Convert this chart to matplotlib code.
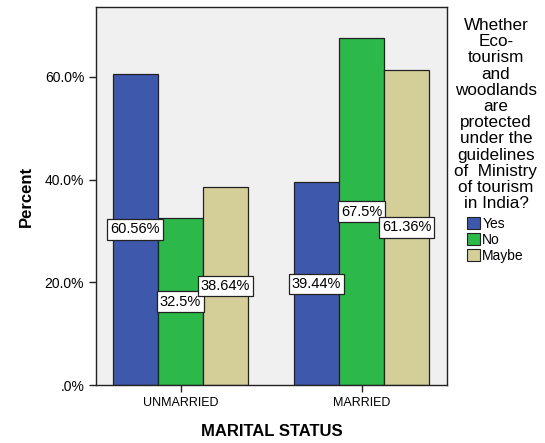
import numpy as np
import matplotlib.pyplot as plt
from matplotlib.patches import Patch

plt.rcParams['font.family'] = ['Liberation Sans', 'DejaVu Sans']

categories = ['UNMARRIED', 'MARRIED']
answers = ['Yes', 'No', 'Maybe']
yes_pct = [60.56, 39.44]
no_pct = [32.5, 67.5]
maybe_pct = [38.64, 61.36]
value_labels = [['60.56%', '39.44%'], ['32.5%', '67.5%'], ['38.64%', '61.36%']]
colors = ['#3E58AC', '#2DB84A', '#D4CE99']
legend_title = ('Whether\nEco-\ntourism\nand\nwoodlands\nare\nprotected\nunder the\n'
                'guidelines\nof  Ministry\nof tourism\nin India?')

fig = plt.figure(figsize=(5.45, 4.43), dpi=100)
ax = fig.add_axes([0.1761, 0.1309, 0.644, 0.8533])
ax.set_facecolor('#F0F0F0')

x = np.arange(len(categories))
width = 0.249
series = [yes_pct, no_pct, maybe_pct]
for i, vals in enumerate(series):
    pos = x + (i - 1) * width
    ax.bar(pos, vals, width, color=colors[i], edgecolor='#222222', linewidth=0.9, zorder=2)
    for p, v, lab in zip(pos, vals, value_labels[i]):
        ax.text(p, v / 2, lab, ha='center', va='center', fontsize=10.5, zorder=4,
                bbox=dict(boxstyle='square,pad=0.22', facecolor='white', edgecolor='#222222', linewidth=0.9))

ax.set_xlim(-0.467, 1.472)
ax.set_ylim(0, 73.6)
ax.set_xticks(x)
ax.set_xticklabels(categories, fontsize=9)
ax.set_yticks([0, 20, 40, 60])
ax.set_yticklabels(['.0%', '20.0%', '40.0%', '60.0%'], fontsize=10)
ax.tick_params(axis='both', direction='out', length=5, width=1, color='#222222')
for s in ax.spines.values():
    s.set_color('#222222')
    s.set_linewidth(1)

ax.set_ylabel('Percent', fontsize=12, fontweight='bold', labelpad=8)
ax.set_xlabel('MARITAL STATUS', fontsize=12, fontweight='bold', labelpad=11)

fig.text(496 / 545, 1 - 18 / 443, legend_title, ha='center', va='top', multialignment='center',
         fontsize=12.3, linespacing=1.1)
handles = [Patch(facecolor=c, edgecolor='#222222', linewidth=0.8) for c in colors]
fig.legend(handles, answers, loc='upper left', bbox_to_anchor=(467 / 545, 1 - 217 / 443),
           frameon=False, fontsize=10, handlelength=0.95, handleheight=0.95, handletextpad=0.15,
           labelspacing=0.15, borderpad=0, borderaxespad=0)

fig.savefig('out.png', dpi=100)
